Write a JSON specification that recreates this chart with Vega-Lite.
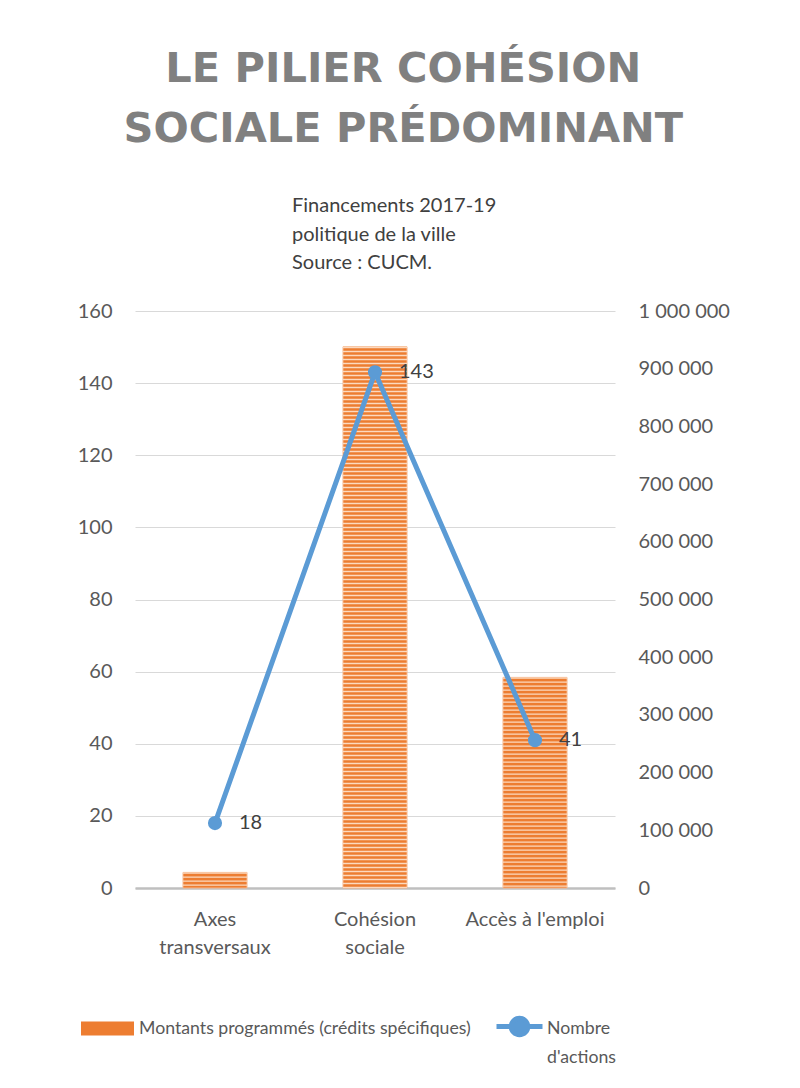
{
  "$schema": "https://vega.github.io/schema/vega-lite/v6.json",
  "autosize": {"type": "pad"},
  "padding": {"left": 77, "top": 48, "right": 10, "bottom": 10},
  "background": "white",
  "config": {
    "font": "Lato",
    "view": {"stroke": null},
    "locale": {
      "number": {"decimal": ",", "thousands": " ", "grouping": [3], "currency": ["", " €"]}
    },
    "axis": {
      "labelFont": "Lato",
      "labelFontSize": 20,
      "labelColor": "#595959",
      "ticks": false,
      "domain": false,
      "title": null
    },
    "legend": {
      "labelFont": "Lato",
      "labelFontSize": 17.7,
      "labelColor": "#595959",
      "labelLimit": 600,
      "title": null,
      "padding": 0
    }
  },
  "title": {
    "text": ["LE PILIER COHÉSION", "SOCIALE PRÉDOMINANT"],
    "anchor": "middle",
    "frame": "bounds",
    "font": "DejaVu Sans",
    "fontSize": 41.5,
    "fontWeight": "bold",
    "color": "#808080",
    "lineHeight": 60,
    "offset": 46
  },
  "data": {
    "values": [
      {"axe": "Axes transversaux", "montant": 27000, "actions": 18},
      {"axe": "Cohésion sociale", "montant": 938000, "actions": 143},
      {"axe": "Accès à l'emploi", "montant": 365000, "actions": 41}
    ]
  },
  "vconcat": [
    {
      "width": 480,
      "height": 577,
      "title": {
        "text": ["Financements 2017-19", "politique de la ville", "Source : CUCM."],
        "anchor": "start",
        "frame": "group",
        "dx": 157,
        "font": "Lato",
        "fontSize": 20,
        "fontWeight": "normal",
        "color": "#404040",
        "lineHeight": 28.5,
        "offset": 28
      },
      "encoding": {
        "x": {
          "field": "axe",
          "type": "nominal",
          "sort": null,
          "scale": {"paddingInner": 0.6, "paddingOuter": 0.3},
          "axis": {
            "labelAngle": 0,
            "domain": true,
            "domainColor": "#bfbfbf",
            "domainWidth": 2.5,
            "labelPadding": 21,
            "labelLineHeight": 28,
            "labelBaseline": "top",
            "labelExpr": "datum.value === 'Accès à l\\'emploi' ? datum.value : split(datum.value, ' ')"
          }
        }
      },
      "layer": [
        {
          "encoding": {
            "y": {
              "field": "montant",
              "type": "quantitative",
              "scale": {"domain": [0, 1000000], "nice": false},
              "axis": {
                "orient": "right",
                "values": [0, 100000, 200000, 300000, 400000, 500000, 600000, 700000, 800000, 900000, 1000000],
                "format": ",d",
                "grid": false,
                "labelPadding": 23
              }
            }
          },
          "layer": [
            {
              "mark": {"type": "bar", "stroke": "#f6b68a", "strokeWidth": 1},
              "encoding": {
                "fill": {
                  "datum": "Montants programmés (crédits spécifiques)",
                  "scale": {"range": ["#ED7D31"]},
                  "legend": {
                    "orient": "none",
                    "legendX": -54,
                    "legendY": 691,
                    "symbolType": "M-1,-0.26H1V0.26H-1Z",
                    "symbolSize": 2809,
                    "symbolStrokeWidth": 0,
                    "labelOffset": 5
                  }
                }
              }
            },
            {
              "mark": {
                "type": "rule",
                "stroke": "#fcd9bf",
                "strokeWidth": 64,
                "strokeDash": [1.4, 2.6],
                "strokeCap": "butt"
              },
              "encoding": {"y2": {"datum": 0}}
            }
          ]
        },
        {
          "encoding": {
            "y": {
              "field": "actions",
              "type": "quantitative",
              "scale": {"domain": [0, 160], "nice": false},
              "axis": {
                "orient": "left",
                "values": [0, 20, 40, 60, 80, 100, 120, 140, 160],
                "grid": true,
                "gridColor": "#d9d9d9",
                "gridWidth": 1.2,
                "labelPadding": 23
              }
            }
          },
          "layer": [
            {
              "mark": {
                "type": "line",
                "strokeWidth": 5,
                "point": {"filled": true, "size": 200, "fill": "#5B9BD5", "strokeWidth": 0}
              },
              "encoding": {
                "stroke": {
                  "datum": "Nombre d'actions",
                  "scale": {"range": ["#5B9BD5"]},
                  "legend": {
                    "orient": "none",
                    "legendX": 359,
                    "legendY": 690,
                    "symbolType": "M-1,0H1M-0.36,0A0.36,0.36 0 1,1 0.36,0A0.36,0.36 0 1,1 -0.36,0Z",
                    "symbolSize": 2116,
                    "symbolStrokeWidth": 5,
                    "symbolFillColor": "#5B9BD5",
                    "labelOffset": 2,
                    "labelBaseline": "alphabetic",
                    "labelExpr": "['Nombre', ' d\\'actions']",
                    "encode": {"labels": {"update": {"dy": {"value": 7}, "lineHeight": {"value": 29}}}}
                  }
                }
              }
            },
            {
              "mark": {
                "type": "text",
                "align": "left",
                "baseline": "middle",
                "dx": 24,
                "fontSize": 20,
                "color": "#404040"
              },
              "encoding": {"text": {"field": "actions", "type": "quantitative"}}
            }
          ]
        }
      ],
      "resolve": {"scale": {"y": "independent"}}
    }
  ]
}
